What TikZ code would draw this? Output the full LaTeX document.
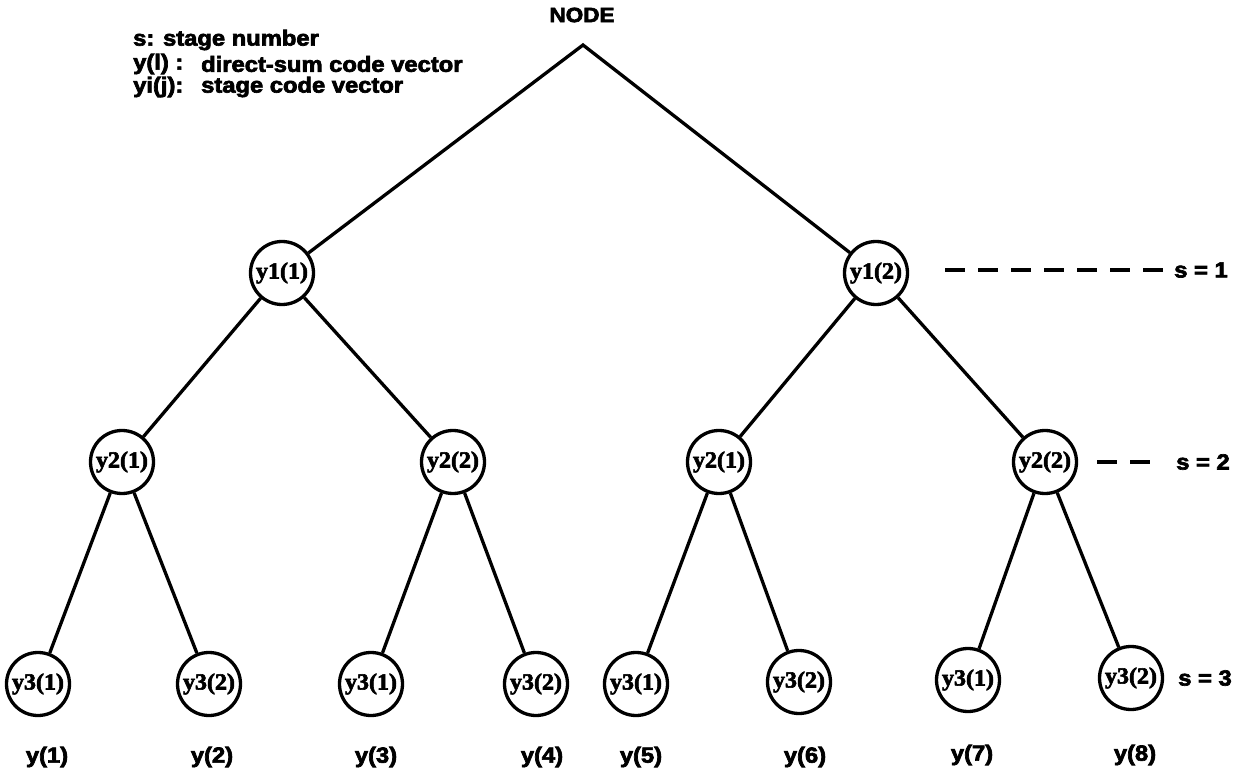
\documentclass[tikz,border=0pt]{standalone}
\usepackage{fontspec}
\usepackage{graphicx}
\setmainfont{Liberation Serif}
\setsansfont{Liberation Sans}
\newfontfamily\hsans[FakeBold=3]{Liberation Sans Bold}
\newfontfamily\hserif[FakeBold=2.5]{Liberation Serif Bold}
\usetikzlibrary{shapes.geometric}
\newcommand\wsans[2][19]{\scalebox{1.25}[1.15]{\fontsize{#1}{#1}\selectfont\hsans #2}}
\newcommand\wserif[1]{\makebox[0pt][c]{\scalebox{1.2}[1.15]{\fontsize{20}{20}\selectfont\hserif #1}}}
\begin{document}
\begin{tikzpicture}[x=1pt,y=-1pt,
  vec/.style={draw, ellipse, line width=3.3pt, minimum width=63pt, minimum height=63pt, inner sep=0pt},
  edge/.style={line width=3.3pt, line join=miter},
  lab/.style={inner sep=0pt},
  leg/.style={inner sep=0pt, anchor=west},
  lvl/.style={line width=3.8pt, dash pattern=on 20pt off 13pt}]
\useasboundingbox (0,0) rectangle (1245,775);
% title and legend
\node[lab] (top) at (582,15) {\wsans[18]{NODE}};
\coordinate (apex) at (583,45);
\node[leg] (l1) at (133,40) {\wsans{s: stage number}};
\node[leg] (l2a) at (133,64) {\wsans{y(l) :}};
\node[leg] (l2b) at (201,64) {\wsans{direct-sum code vector}};
\node[leg] (l3a) at (133,87) {\wsans{yi(j):}};
\node[leg] (l3b) at (201,87) {\wsans{stage code vector}};
% stage 1
\node[vec] (a1) at (282,273) {\wserif{y1(1)}};
\node[vec] (a2) at (876,273) {\wserif{y1(2)}};
% stage 2
\node[vec] (b1) at (122,462) {\wserif{y2(1)}};
\node[vec] (b2) at (453,462) {\wserif{y2(2)}};
\node[vec] (b3) at (719,462) {\wserif{y2(1)}};
\node[vec] (b4) at (1045,462) {\wserif{y2(2)}};
% stage 3
\node[vec] (c1) at (38,684) {\wserif{y3(1)}};
\node[vec] (c2) at (209,684) {\wserif{y3(2)}};
\node[vec] (c3) at (371,684) {\wserif{y3(1)}};
\node[vec] (c4) at (536,684) {\wserif{y3(2)}};
\node[vec] (c5) at (636,684) {\wserif{y3(1)}};
\node[vec] (c6) at (799,682) {\wserif{y3(2)}};
\node[vec] (c7) at (968,680) {\wserif{y3(1)}};
\node[vec] (c8) at (1131,678) {\wserif{y3(2)}};
% leaf labels
\node[lab] (d1) at (47,757) {\wsans{y(1)}};
\node[lab] (d2) at (212,757) {\wsans{y(2)}};
\node[lab] (d3) at (376,757) {\wsans{y(3)}};
\node[lab] (d4) at (542,757) {\wsans{y(4)}};
\node[lab] (d5) at (641,757) {\wsans{y(5)}};
\node[lab] (d6) at (805,757) {\wsans{y(6)}};
\node[lab] (d7) at (972,755) {\wsans{y(7)}};
\node[lab] (d8) at (1135,755) {\wsans{y(8)}};
% edges
\draw[edge] (a1) -- (apex) -- (a2);
\draw[edge] (a1) -- (b1); \draw[edge] (a1) -- (b2);
\draw[edge] (a2) -- (b3); \draw[edge] (a2) -- (b4);
\draw[edge] (b1) -- (c1); \draw[edge] (b1) -- (c2);
\draw[edge] (b2) -- (c3); \draw[edge] (b2) -- (c4);
\draw[edge] (b3) -- (c5); \draw[edge] (b3) -- (c6);
\draw[edge] (b4) -- (c7); \draw[edge] (b4) -- (c8);
% stage markers
\node[lab] (s1) at (1201,270) {\wsans{s = 1}};
\node[lab] (s2) at (1203,462) {\wsans{s = 2}};
\node[lab] (s3) at (1205,678) {\wsans{s = 3}};
\coordinate (s1a) at (945,270);
\coordinate (s1b) at (1163,270);
\coordinate (s2a) at (1097,462);
\coordinate (s2b) at (1150,462);
\draw[lvl] (s1a) -- (s1b);
\draw[lvl] (s2a) -- (s2b);
\end{tikzpicture}
\end{document}
